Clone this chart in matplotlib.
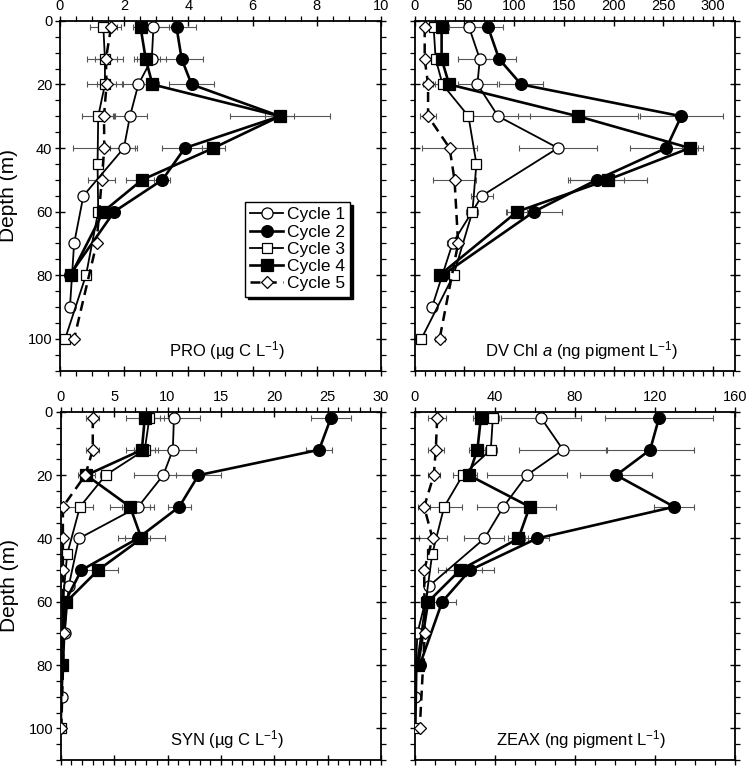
import matplotlib
matplotlib.use('Agg')
import matplotlib.pyplot as plt
from matplotlib.ticker import MultipleLocator

plt.rcParams['font.family'] = ['Liberation Sans', 'DejaVu Sans']
plt.rcParams['mathtext.fontset'] = 'custom'
plt.rcParams['mathtext.rm'] = 'Liberation Sans'
plt.rcParams['mathtext.it'] = 'Liberation Sans:italic'

# sampling depths (m) for each cycle
depth_c1 = [2, 12, 20, 30, 40, 55, 70, 90]
depth_c2 = [2, 12, 20, 30, 40, 50, 60, 80]
depth_c3 = [2, 12, 20, 30, 45, 60, 80, 100]
depth_c4 = [2, 12, 20, 30, 40, 50, 60, 80]
depth_c5 = [2, 12, 20, 30, 40, 50, 70, 100]

# PRO (ug C/L)
pro_c1 = [2.91, 2.86, 2.44, 2.18, 1.99, 0.73, 0.44, 0.31]
pro_c1_err = [0.5, 0.45, 0.5, 0.52, 0.42, 0.1, 0.08, 0.05]
pro_c2 = [3.63, 3.79, 4.10, 6.85, 3.89, 3.19, 1.69, 0.30]
pro_c2_err = [0.6, 0.68, 0.69, 1.55, 0.7, 0.25, 0.1, 0.05]
pro_c3 = [1.35, 1.40, 1.40, 1.19, 1.17, 1.19, 0.81, 0.16]
pro_c3_err = [0.42, 0.55, 0.55, 0.52, 0.1, 0.1, 0.1, 0.05]
pro_c4 = [2.51, 2.67, 2.88, 6.85, 4.78, 2.56, 1.35, 0.34]
pro_c4_err = [0.25, 0.35, 0.2, 0.45, 0.37, 0.5, 0.1, 0.05]
pro_c5 = [1.59, 1.43, 1.45, 1.37, 1.38, 1.30, 1.14, 0.44]
pro_c5_err = [0.3, 0.35, 0.3, 0.3, 0.96, 0.42, 0.1, 0.05]

# DV Chl a (ng pigment/L)
dv_c1 = [54.6, 65.4, 63, 83.8, 144, 67.7, 38, 17.4]
dv_c1_err = [20, 22, 20, 32, 39, 11, 6, 3]
dv_c2 = [73.7, 84.8, 107, 268, 253, 183, 120, 28]
dv_c2_err = [15, 17, 22, 42, 37, 27, 28, 5]
dv_c3 = [19, 21, 28, 54, 62, 58, 39, 6.7]
dv_c3_err = [5, 5, 8, 5, 5, 6, 4, 2]
dv_c4 = [27, 27, 34.6, 164, 276.5, 194, 103, 25]
dv_c4_err = [5, 5, 5, 60, 8, 40, 10, 5]
dv_c5 = [10, 10, 13.4, 13.4, 35, 40, 43.6, 25]
dv_c5_err = [3, 3, 5, 8, 28, 22, 5, 5]

# SYN (ug C/L)
syn_c1 = [10.6, 10.5, 9.6, 7.25, 1.7, 0.75, 0.37, 0.1]
syn_c1_err = [2.4, 2.2, 2.7, 1.5, 0.3, 0.1, 0.1, 0.05]
syn_c2 = [25.3, 24.2, 12.9, 11.1, 7.2, 1.94, 0.4, 0.05]
syn_c2_err = [1.9, 1.2, 2.1, 1.1, 1.2, 0.2, 0.1, 0.02]
syn_c3 = [8.3, 7.87, 4.2, 1.8, 0.6, 0.2, 0.1, 0.05]
syn_c3_err = [1.0, 1.0, 0.5, 1.2, 0.2, 0.05, 0.05, 0.02]
syn_c4 = [7.87, 7.6, 2.4, 6.5, 7.56, 3.5, 0.53, 0.1]
syn_c4_err = [1.8, 1.5, 0.8, 1.9, 2.2, 1.9, 0.1, 0.05]
syn_c5 = [3.0, 3.0, 2.3, 0.2, 0.2, 0.2, 0.3, 0.05]
syn_c5_err = [0.6, 0.6, 0.4, 0.1, 0.1, 0.1, 0.05, 0.02]

# ZEAX (ng pigment/L)
zea_c1 = [63.2, 74.1, 56, 44.3, 34.8, 7.2, 1.3, 0]
zea_c1_err = [20, 22, 20, 13, 10, 2, 1, 0.5]
zea_c2 = [122, 117.6, 100.7, 129.6, 61, 27.6, 13.7, 2.5]
zea_c2_err = [27, 22, 18, 10, 6, 12, 7, 1]
zea_c3 = [39, 38, 24, 14.7, 8.7, 5.5, 1, 0.5]
zea_c3_err = [3, 3, 5, 8.7, 2, 2, 1, 0.5]
zea_c4 = [33, 31.3, 27, 57.4, 51.8, 22.6, 6.7, 1.7]
zea_c4_err = [4, 4, 4, 13, 5, 11, 2, 1]
zea_c5 = [11.2, 10.5, 9.5, 4.7, 8.9, 4.7, 5, 2.5]
zea_c5_err = [4.5, 4, 3, 3, 7, 2, 1, 1]

cycle_names = ['Cycle 1', 'Cycle 2', 'Cycle 3', 'Cycle 4', 'Cycle 5']
depths = [depth_c1, depth_c2, depth_c3, depth_c4, depth_c5]

panels = [
    ([pro_c1, pro_c2, pro_c3, pro_c4, pro_c5],
     [pro_c1_err, pro_c2_err, pro_c3_err, pro_c4_err, pro_c5_err],
     'PRO (µg C L$^{-1}$)', 10, 2, 0.5),
    ([dv_c1, dv_c2, dv_c3, dv_c4, dv_c5],
     [dv_c1_err, dv_c2_err, dv_c3_err, dv_c4_err, dv_c5_err],
     'DV Chl $\\it{a}$ (ng pigment L$^{-1}$)', 322, 50, 10),
    ([syn_c1, syn_c2, syn_c3, syn_c4, syn_c5],
     [syn_c1_err, syn_c2_err, syn_c3_err, syn_c4_err, syn_c5_err],
     'SYN (µg C L$^{-1}$)', 30, 5, 1),
    ([zea_c1, zea_c2, zea_c3, zea_c4, zea_c5],
     [zea_c1_err, zea_c2_err, zea_c3_err, zea_c4_err, zea_c5_err],
     'ZEAX (ng pigment L$^{-1}$)', 160, 40, 10),
]

# marker / line style per cycle
styles = [
    dict(marker='o', mfc='white', ms=8, lw=1.3, ls='-'),
    dict(marker='o', mfc='black', ms=8.5, lw=1.9, ls='-'),
    dict(marker='s', mfc='white', ms=7.5, lw=1.3, ls='-'),
    dict(marker='s', mfc='black', ms=8, lw=1.9, ls='-'),
    dict(marker='D', mfc='white', ms=6.5, lw=1.8, ls=(0, (4, 2.5))),
]

fig = plt.figure(figsize=(7.5, 7.72), dpi=100)
positions = [
    [0.080, 0.520, 0.428, 0.453],
    [0.553, 0.520, 0.427, 0.453],
    [0.081, 0.0155, 0.427, 0.451],
    [0.553, 0.0155, 0.427, 0.451],
]

for i, (vals, errs, label, xmax, major, minor) in enumerate(panels):
    ax = fig.add_axes(positions[i])
    for c in range(5):
        ax.errorbar(vals[c], depths[c], xerr=errs[c], fmt='none',
                    ecolor='#555555', elinewidth=0.8, capsize=2.2,
                    capthick=0.8, zorder=1)
    for c in range(5):
        st = styles[c]
        line, = ax.plot(vals[c], depths[c], color='black', linestyle=st['ls'],
                        linewidth=st['lw'], marker=st['marker'],
                        markersize=st['ms'], markerfacecolor=st['mfc'],
                        markeredgecolor='black', markeredgewidth=0.9,
                        label=cycle_names[c], zorder=2 + c)
    ax.set_xlim(0, xmax)
    ax.set_ylim(110, 0)
    ax.xaxis.set_major_locator(MultipleLocator(major))
    ax.xaxis.set_minor_locator(MultipleLocator(minor))
    ax.yaxis.set_major_locator(MultipleLocator(20))
    ax.yaxis.set_minor_locator(MultipleLocator(5))
    ax.tick_params(which='both', top=True, bottom=True, left=True, right=True,
                   labeltop=True, labelbottom=False, labelsize=10.5, pad=2)
    ax.tick_params(which='major', direction='inout', length=7, width=1)
    ax.tick_params(which='minor', direction='out', length=3.5, width=0.9)
    if i % 2 == 1:
        ax.tick_params(labelleft=False)
    else:
        ax.set_ylabel('Depth (m)', fontsize=15)
        ax.yaxis.set_label_coords(-0.13, 0.5)
    for sp in ax.spines.values():
        sp.set_linewidth(1.3)
    ax.text(0.52, 0.058, label, transform=ax.transAxes, ha='center',
            va='center', fontsize=12)
    if i == 0:
        leg = ax.legend(loc='upper left', bbox_to_anchor=(0.576, 0.482),
                        borderaxespad=0, fancybox=False, edgecolor='black',
                        framealpha=1, fontsize=12.5, handlelength=1.9,
                        handletextpad=0.2, labelspacing=0.12, borderpad=0.3,
                        shadow={'color': 'black', 'alpha': 1})
        leg.get_frame().set_linewidth(1.0)

fig.savefig('out.png', dpi=100)
